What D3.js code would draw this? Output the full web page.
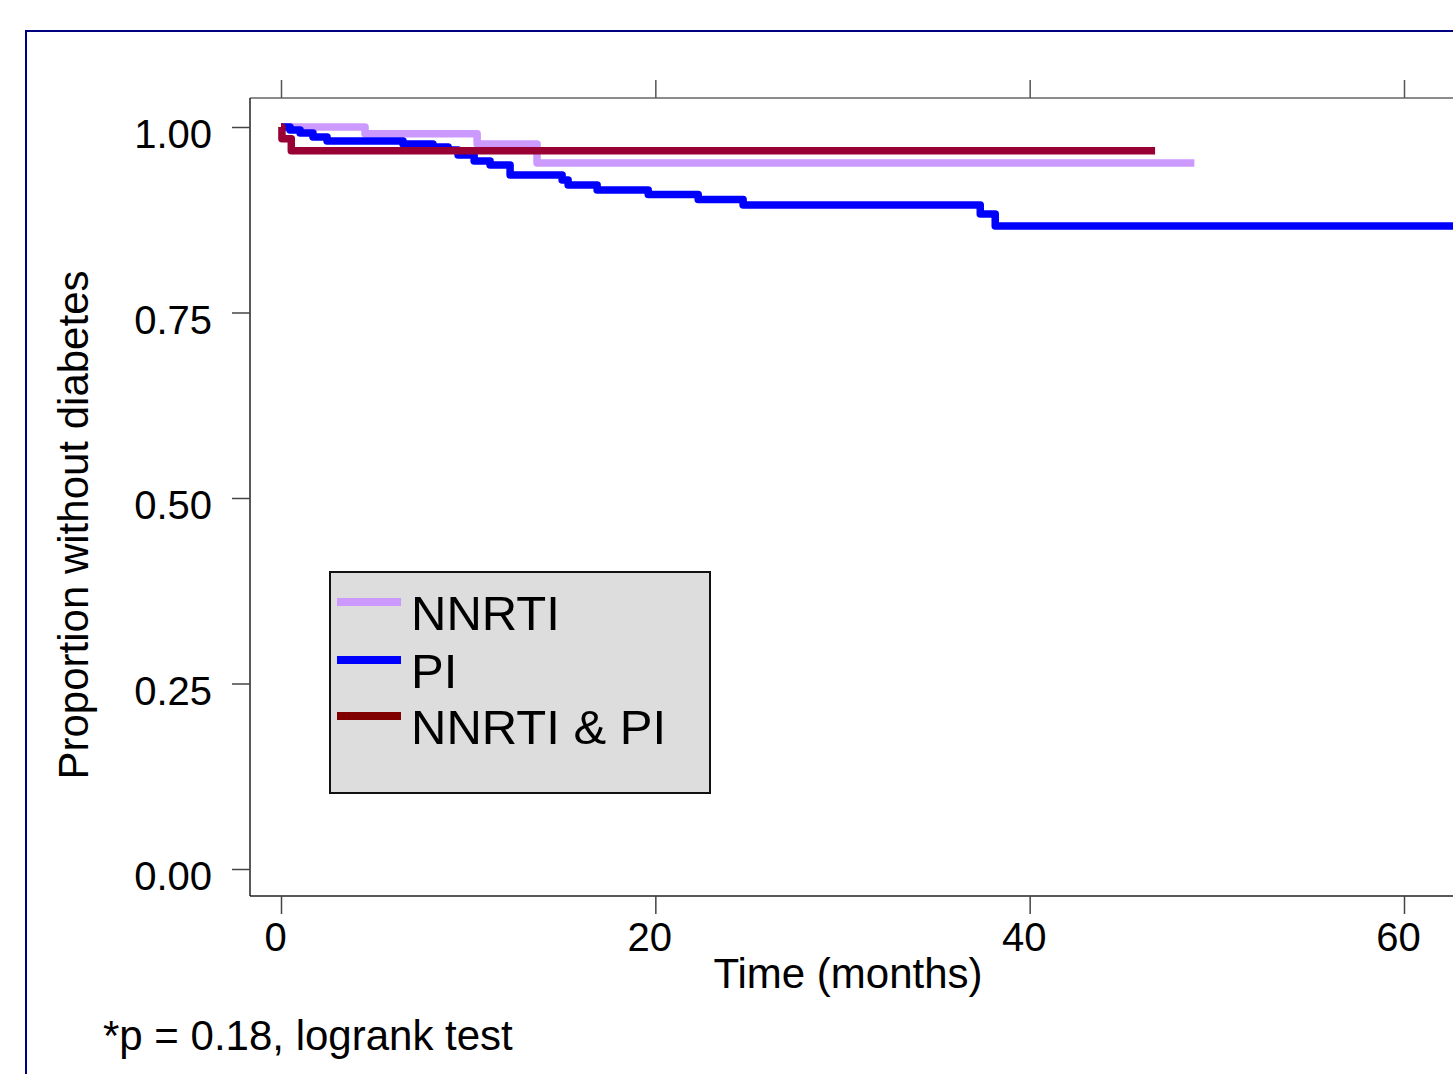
<!DOCTYPE html>
<html>
<head>
<meta charset="utf-8">
<script src="https://cdn.jsdelivr.net/npm/d3@7"></script>
<style>
  html, body { margin: 0; padding: 0; background: #fff; overflow: hidden; }
  svg { display: block; font-family: "Liberation Sans", Arial, sans-serif; }
</style>
</head>
<body>
<svg id="chart" width="1453" height="1074"></svg>
<script>
// ---- data ----
const seriesNames = ["NNRTI", "PI", "NNRTI & PI"];
const nnrtiTime = [0, 4.49, 10.48, 13.68, 48.8];
const nnrtiSurv = [1.0, 0.991, 0.977, 0.9515, 0.9515];
const piTime = [0, 0.48, 1.02, 1.71, 2.46, 6.52, 8.12, 8.93, 9.46, 10.32, 11.17, 12.24, 15.02, 15.34, 16.89, 19.62, 22.29, 24.69, 37.36, 38.16, 64];
const piSurv = [1.0, 0.996, 0.9919, 0.9865, 0.981, 0.977, 0.973, 0.969, 0.9623, 0.9542, 0.9488, 0.9353, 0.9286, 0.9218, 0.9151, 0.909, 0.9023, 0.8949, 0.8827, 0.8666, 0.8666];
const comboTime = [0, 0.05, 0.55, 46.7];
const comboSurv = [1.0, 0.984, 0.968, 0.968];
const xTicks = [0, 20, 40, 60];
const yTicks = [0, 0.25, 0.5, 0.75, 1.0];
const yTickLabels = ["0.00", "0.25", "0.50", "0.75", "1.00"];
const lineColors = ["#CC99FF", "#0000FF", "#990033"];
const legendColors = ["#CC99FF", "#0000FF", "#800000"];

const svg = d3.select("#chart");

// outer frame
svg.append("rect").attr("x", 26).attr("y", 31).attr("width", 1500).attr("height", 1100)
  .attr("fill", "none").attr("stroke", "#000080").attr("stroke-width", 2);

const x = d3.scaleLinear().domain([0, 60]).range([281, 1404]);
const y = d3.scaleLinear().domain([0, 1]).range([869, 127]);

const plotLeft = 250, plotTop = 98, plotBottom = 896, plotRight = 1500;

// plot box
svg.append("line").attr("x1", plotLeft).attr("x2", plotRight).attr("y1", plotTop).attr("y2", plotTop)
  .attr("stroke", "#666").attr("stroke-width", 1.5);
svg.append("line").attr("x1", plotLeft).attr("x2", plotLeft).attr("y1", plotTop).attr("y2", plotBottom)
  .attr("stroke", "#222").attr("stroke-width", 1.5);
svg.append("line").attr("x1", plotLeft).attr("x2", plotRight).attr("y1", plotBottom).attr("y2", plotBottom)
  .attr("stroke", "#222").attr("stroke-width", 1.5);

// y axis
const yAxis = d3.axisLeft(y).tickValues(yTicks).tickSize(18).tickPadding(20)
  .tickFormat((d, i) => yTickLabels[i]);
const gy = svg.append("g").attr("transform", `translate(${plotLeft},0)`).call(yAxis);
gy.select(".domain").remove();
gy.selectAll(".tick line").attr("stroke", "#444").attr("stroke-width", 1.5);
gy.selectAll(".tick text").attr("font-size", 40).attr("fill", "#000")
  .attr("font-family", "Liberation Sans, Arial, sans-serif").attr("dy", "0.52em");

// x axis bottom
const xAxis = d3.axisBottom(x).tickValues(xTicks).tickSize(18).tickPadding(8);
const gx = svg.append("g").attr("transform", `translate(0,${plotBottom})`).call(xAxis);
gx.select(".domain").remove();
gx.selectAll(".tick line").attr("stroke", "#444").attr("stroke-width", 1.5);
gx.selectAll(".tick text").attr("font-size", 40).attr("fill", "#000")
  .attr("font-family", "Liberation Sans, Arial, sans-serif").attr("dx", -6).attr("dy", "0.72em");

// x axis top (ticks only)
const xAxisTop = d3.axisTop(x).tickValues(xTicks).tickSize(18).tickFormat("");
const gxt = svg.append("g").attr("transform", `translate(0,${plotTop})`).call(xAxisTop);
gxt.select(".domain").remove();
gxt.selectAll(".tick line").attr("stroke", "#555").attr("stroke-width", 1.5);

// curves
const line = d3.line().x(d => x(d[0])).y(d => y(d[1])).curve(d3.curveStepAfter);
const series = [
  d3.zip(nnrtiTime, nnrtiSurv),
  d3.zip(piTime, piSurv),
  d3.zip(comboTime, comboSurv)
];
[0, 1, 2].forEach(i => {
  svg.append("path").datum(series[i]).attr("d", line)
    .attr("fill", "none").attr("stroke", lineColors[i]).attr("stroke-width", 7.5)
    .attr("stroke-linejoin", "round").attr("stroke-linecap", "butt");
});

// legend
const lg = svg.append("g");
lg.append("rect").attr("x", 330).attr("y", 572).attr("width", 380).attr("height", 221)
  .attr("fill", "#DDDDDD").attr("stroke", "#111").attr("stroke-width", 2);
const legendY = [602, 660, 716];
seriesNames.forEach((name, i) => {
  lg.append("line").attr("x1", 337).attr("x2", 401).attr("y1", legendY[i]).attr("y2", legendY[i])
    .attr("stroke", legendColors[i]).attr("stroke-width", 8);
  lg.append("text").attr("x", 411).attr("y", legendY[i] + 28).attr("font-size", 49)
    .attr("fill", "#000").text(name);
});

// axis titles
svg.append("text").attr("x", 848).attr("y", 988).attr("text-anchor", "middle")
  .attr("font-size", 42).attr("fill", "#000").text("Time (months)");
svg.append("text").attr("transform", "translate(88,525) rotate(-90)").attr("text-anchor", "middle")
  .attr("font-size", 42).attr("fill", "#000").text("Proportion without diabetes");

// footnote
svg.append("text").attr("x", 103).attr("y", 1050).attr("font-size", 42).attr("fill", "#000")
  .text("*p = 0.18, logrank test");
</script>
</body>
</html>
